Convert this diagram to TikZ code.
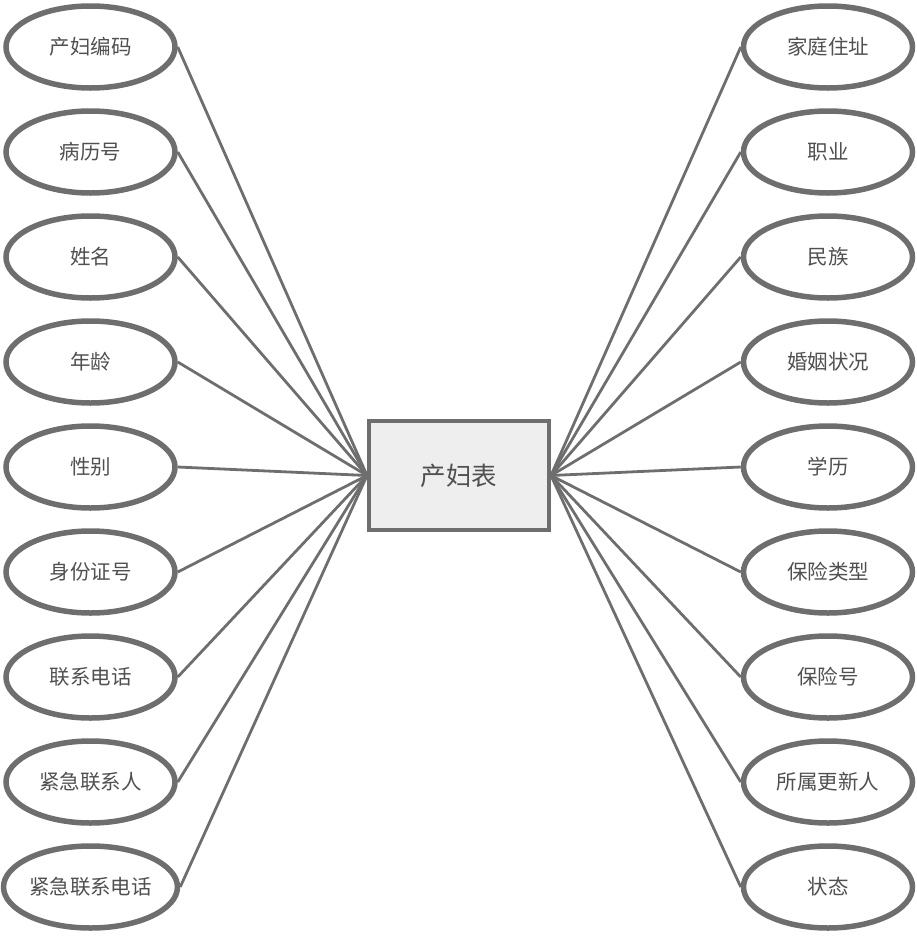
\documentclass[tikz,border=0pt]{standalone}
\usepackage{fontspec}
\setmainfont{Noto Sans CJK SC}
\usetikzlibrary{shapes.geometric}
\definecolor{edgegray}{HTML}{6E6E6E}
\definecolor{txtgray}{HTML}{505050}
\definecolor{boxfill}{HTML}{EEEEEE}
\begin{document}
\begin{tikzpicture}[x=1pt,y=-1pt,
  attr/.style={ellipse, draw=edgegray, line width=5.5pt, fill=white, minimum width=169pt, minimum height=82pt, inner sep=0pt, text=txtgray, font=\fontsize{20.5}{22}\selectfont},
  entity/.style={rectangle, draw=edgegray, line width=4pt, fill=boxfill, minimum width=180pt, minimum height=109pt, inner sep=0pt, text=txtgray, font=\fontsize{25.5}{27}\selectfont},
  conn/.style={draw=edgegray, line width=2.8pt}]
\useasboundingbox (0,0) rectangle (917,951);
\node[entity] (c) at (459,475.5) {产妇表};
\foreach \i/\t in {0/产妇编码,1/病历号,2/姓名,3/年龄,4/性别,5/身份证号,6/联系电话,7/紧急联系人,8/紧急联系电话}{
  \node[attr] (L\i) at (90.5,{47+105*\i}) {\t};
  \draw[conn] (L\i.east) -- (c.west);
}
\foreach \i/\t in {0/家庭住址,1/职业,2/民族,3/婚姻状况,4/学历,5/保险类型,6/保险号,7/所属更新人,8/状态}{
  \node[attr] (R\i) at (828,{47+105*\i}) {\t};
  \draw[conn] (R\i.west) -- (c.east);
}
\end{tikzpicture}
\end{document}
